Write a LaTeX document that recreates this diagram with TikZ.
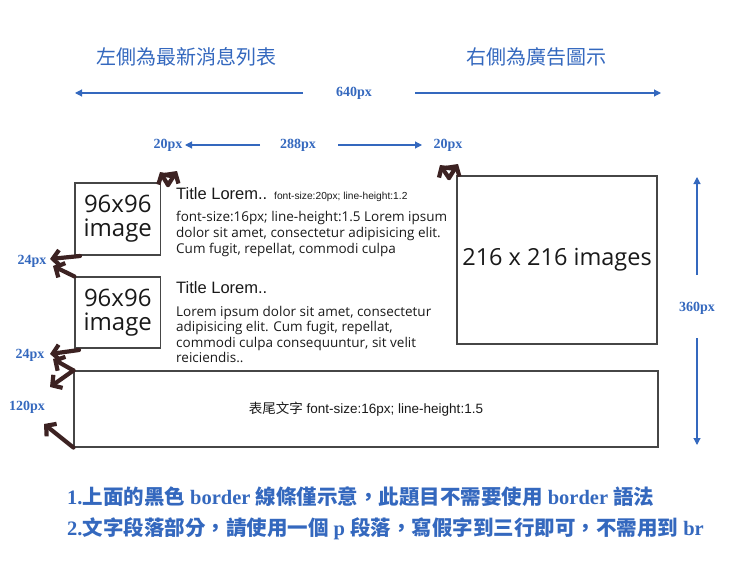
\documentclass[tikz,border=0pt]{standalone}
\usepackage{fontspec}
\usetikzlibrary{arrows.meta}
\newfontfamily\osans{Open Sans}
\newfontfamily\arialf{Liberation Sans}
\newfontfamily\tnr{Liberation Serif}
\newfontfamily\cjk{Noto Sans CJK TC}
\newcommand\cj[1]{{\cjk #1}}
\newcommand\tb[1]{{\tnr\bfseries #1}}
\definecolor{dimblue}{RGB}{52,104,190}
\definecolor{brownarr}{RGB}{60,34,34}
\definecolor{boxgray}{RGB}{70,70,70}
\definecolor{txt}{RGB}{25,25,25}
\tikzset{
  box/.style={draw=boxgray, line width=1.1pt, inner sep=0pt, align=center, text=txt},
  dimlab/.style={text=dimblue, font=\tnr\bfseries\fontsize{14}{16}\selectfont, inner sep=0pt},
  dimline/.style={draw=dimblue, line width=1.1pt, -{Triangle[length=7pt,width=7pt]}},
  brarrow/.style={draw=brownarr, line width=4.2pt, line cap=round, -{Straight Barb[length=7pt,width=16pt]}},
  tline/.style={anchor=base west, inner sep=0pt, text=txt},
}
\begin{document}
\begin{tikzpicture}[x=1pt,y=-1pt]
\useasboundingbox (0,0) rectangle (740,578);

% headings
\node[text=dimblue, font=\cjk\fontsize{20}{24}\selectfont, inner sep=0pt] (hl) at (186,57) {左側為最新消息列表};
\node[text=dimblue, font=\cjk\fontsize{20}{24}\selectfont, inner sep=0pt] (hr) at (536,57) {右側為廣告圖示};

% 640 dimension
\node[dimlab] (d640) at (354,93) {640px};
\coordinate (d640l1) at (303,93); \coordinate (d640l2) at (75,93);
\coordinate (d640r1) at (415,93); \coordinate (d640r2) at (661,93);
\draw[dimline] (d640l1) -- (d640l2);
\draw[dimline] (d640r1) -- (d640r2);

% second row
\node[dimlab] (d20a) at (168,145) {20px};
\node[dimlab] (d288) at (298,145) {288px};
\node[dimlab] (d20b) at (448,145) {20px};
\coordinate (s1) at (260,145); \coordinate (s2) at (185,145);
\coordinate (s3) at (338,145); \coordinate (s4) at (422,145);
\draw[dimline] (s1) -- (s2);
\draw[dimline] (s3) -- (s4);

% boxes
\node[box, minimum width=85.5pt, minimum height=72pt, font=\osans\fontsize{24}{24}\selectfont] (b1) at (117.75,219) {96x96\\image};
\node[box, minimum width=85.5pt, minimum height=71pt, font=\osans\fontsize{24}{24}\selectfont] (b2) at (117.75,312.5) {96x96\\image};
\node[box, minimum width=200pt, minimum height=168pt, font=\osans\fontsize{23.5}{24}\selectfont] (ad) at (557,260) {216 x 216 images};
\node[box, minimum width=584pt, minimum height=76pt, font=\arialf\fontsize{13.5}{16}\selectfont] (ft) at (366,409) {\cj{表尾文字} font-size:16px; line-height:1.5};

% text block 1
\node[tline, font=\arialf\fontsize{16.5}{18}\selectfont] (t1) at (176,199) {Title Lorem..};
\node[tline, font=\arialf\fontsize{10.2}{12}\selectfont] (t1s) at (274,199) {font-size:20px; line-height:1.2};
\node[tline, font=\osans\fontsize{13.5}{15}\selectfont] (p1a) at (176,222) {font-size:16px; line-height:1.5 Lorem ipsum};
\node[tline, font=\osans\fontsize{13.5}{15}\selectfont] (p1b) at (176,237.5) {dolor sit amet, consectetur adipisicing elit.};
\node[tline, font=\osans\fontsize{13.5}{15}\selectfont] (p1c) at (176,253) {Cum fugit, repellat, commodi culpa};

% text block 2
\node[tline, font=\arialf\fontsize{16.5}{18}\selectfont] (t2) at (176,293) {Title Lorem..};
\node[tline, font=\osans\fontsize{13.5}{15}\selectfont] (p2a) at (176,316) {Lorem ipsum dolor sit amet, consectetur};
\node[tline, font=\osans\fontsize{13.5}{15}\selectfont] (p2b) at (176,331.5) {adipisicing elit. Cum fugit, repellat,};
\node[tline, font=\osans\fontsize{13.5}{15}\selectfont] (p2c) at (176,347) {commodi culpa consequuntur, sit velit};
\node[tline, font=\osans\fontsize{13.5}{15}\selectfont] (p2d) at (176,362.5) {reiciendis..};

% side labels
\node[dimlab] (l24a) at (32,261) {24px};
\node[dimlab] (l24b) at (30,355) {24px};
\node[dimlab] (l120) at (27,407) {120px};
\node[dimlab] (l360) at (697,308) {360px};

% 360 vertical
\coordinate (v1) at (697,275); \coordinate (v2) at (697,177);
\coordinate (v3) at (697,338); \coordinate (v4) at (697,445);
\draw[dimline] (v1) -- (v2);
\draw[dimline] (v3) -- (v4);

% brown arrows
\coordinate (a1s) at (80,256); \coordinate (a1e) at (50,259);
\coordinate (a2e) at (53,266);
\coordinate (a3s) at (79,350); \coordinate (a3e) at (50,354);
\coordinate (a4e) at (53,359);
\coordinate (a5e) at (50,387);
\coordinate (a6e) at (44,424);
\draw[brarrow] (a1s) -- (a1e);
\draw[brarrow] (b2.north west) -- (a2e);
\draw[brarrow] (a3s) -- (a3e);
\draw[brarrow] (ft.north west) -- (a4e);
\draw[brarrow] (ft.north west) -- (a5e);
\draw[brarrow] (ft.south west) -- (a6e);
\coordinate (g1) at (168,185); \coordinate (g1a) at (160,172); \coordinate (g1b) at (177,171);
\coordinate (g2) at (449,178); \coordinate (g2a) at (440,165); \coordinate (g2b) at (458,164);
\draw[brarrow] (g1) -- (g1a);
\draw[brarrow] (g1) -- (g1b);
\draw[brarrow] (g2) -- (g2a);
\draw[brarrow] (g2) -- (g2b);

% notes
\node[anchor=base west, inner sep=0pt, text=dimblue, font=\fontsize{20.5}{24}\selectfont\bfseries] (n1) at (67,504)
 {\tb{1.}\cj{上面的黑色}\tb{ border }\cj{線條僅示意，此題目不需要使用}\tb{ border }\cj{語法}};
\node[anchor=base west, inner sep=0pt, text=dimblue, font=\fontsize{20.5}{24}\selectfont\bfseries] (n2) at (67,535)
 {\tb{2.}\cj{文字段落部分，請使用一個}\tb{ p }\cj{段落，寫假字到三行即可，不需用到}\tb{ br}};
\end{tikzpicture}
\end{document}
